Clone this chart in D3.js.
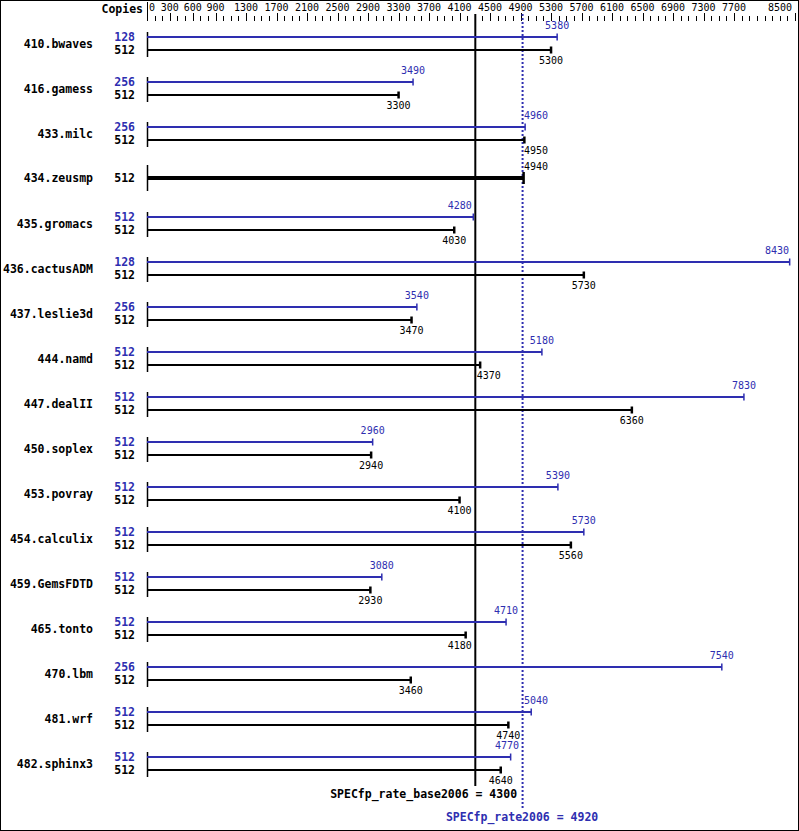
<!DOCTYPE html>
<html><head><meta charset="utf-8">
<script src="https://cdn.jsdelivr.net/npm/d3@7"></script>
<style>body{margin:0;background:#fff}svg{display:block}</style>
</head><body>
<script>
const benchmarks = ["410.bwaves","416.gamess","433.milc","434.zeusmp","435.gromacs","436.cactusADM","437.leslie3d","444.namd","447.dealII","450.soplex","453.povray","454.calculix","459.GemsFDTD","465.tonto","470.lbm","481.wrf","482.sphinx3"];
const peakCopies = [128,256,256,null,512,128,256,512,512,512,512,512,512,512,256,512,512];
const baseCopies = [512,512,512,512,512,512,512,512,512,512,512,512,512,512,512,512,512];
const peakValues = [5380,3490,4960,null,4280,8430,3540,5180,7830,2960,5390,5730,3080,4710,7540,5040,4770];
const baseValues = [5300,3300,4950,4940,4030,5730,3470,4370,6360,2940,4100,5560,2930,4180,3460,4740,4640];
const tickLabels = [0,300,600,900,1300,1700,2100,2500,2900,3300,3700,4100,4500,4900,5300,5700,6100,6500,6900,7300,7700,8500];
const baseScore = 4300, peakScore = 4920;
const baseTitle = "SPECfp_rate_base2006 = 4300";
const peakTitle = "SPECfp_rate2006 = 4920";

const W = 799, H = 831;
const BLUE = "#2e2eb0";
const MONO = "'DejaVu Sans Mono', 'Liberation Mono', monospace";
const svg = d3.select("body").append("svg").attr("width", W).attr("height", H);
svg.append("rect").attr("x",0.5).attr("y",0.5).attr("width",W-1).attr("height",H-1).attr("fill","#fff").attr("stroke","#000");

const x = d3.scaleLinear().domain([0, 8500]).range([147, 795]);
const yBlock = d3.scaleBand().domain(benchmarks).range([37, 37 + 45*benchmarks.length]).paddingInner(0).paddingOuter(0);

// top axis
svg.append("text").attr("x",143).attr("y",13).attr("text-anchor","end")
  .attr("font-family",MONO).attr("font-weight","bold").attr("font-size","11.5px").text("Copies");
svg.append("line").attr("x1",x(0)+0.5).attr("x2",x(0)+0.5).attr("y1",2).attr("y2",21).attr("stroke","#000");
const minor = d3.range(0, 8501, 100);
svg.selectAll("line.tick").data(minor).join("line")
  .attr("x1",d=>Math.round(x(d))+0.5).attr("x2",d=>Math.round(x(d))+0.5)
  .attr("y1",d=>tickLabels.includes(d)?13:16).attr("y2",21).attr("stroke","#000");
svg.selectAll("text.tl").data(tickLabels).join("text")
  .attr("x",(d,i)=> i===0 ? x(d)+2 : (i===tickLabels.length-1 ? x(d)-3 : x(d)))
  .attr("y",11)
  .attr("text-anchor",(d,i)=> i===0 ? "start" : (i===tickLabels.length-1 ? "end" : "middle"))
  .attr("font-family",MONO).attr("font-size","10px").text(d=>d);

// reference lines
svg.append("line").attr("x1",x(baseScore)+0.5).attr("x2",x(baseScore)+0.5).attr("y1",14).attr("y2",786)
  .attr("stroke","#000").attr("stroke-width",2);
svg.append("line").attr("x1",x(peakScore)+0.5).attr("x2",x(peakScore)+0.5).attr("y1",14).attr("y2",808)
  .attr("stroke",BLUE).attr("stroke-width",2).attr("stroke-dasharray","2,2");
svg.append("text").attr("x",x(peakScore)-5).attr("y",798).attr("text-anchor","end")
  .attr("font-family",MONO).attr("font-weight","bold").attr("font-size","11.5px").text(baseTitle);
svg.append("text").attr("x",x(peakScore)).attr("y",821).attr("text-anchor","middle").attr("fill",BLUE)
  .attr("font-family",MONO).attr("font-weight","bold").attr("font-size","11.5px").text(peakTitle);

const charW = 6.02;
function labelX(v){
  const c = x(v), w = String(v).length*charW;
  let left = c - w/2;
  for (const L of [x(baseScore), x(peakScore)]) {
    if (left < L+2 && left + w > L-1) {
      if (c < L) left = L - 3 - w; else left = L + 2;
    }
  }
  if (left + w > W - 10) left = W - 10 - w;
  return left;
}

benchmarks.forEach((b, i) => {
  const top = yBlock(b);
  const g = svg.append("g");
  const single = peakValues[i] === null;
  const yP = top, yB = single ? top + 6 : top + 13;
  g.append("text").attr("x",93).attr("y",(single? yB : (yP+yB)/2)+4).attr("text-anchor","end")
    .attr("font-family",MONO).attr("font-weight","bold").attr("font-size","11.5px").text(b);
  g.append("line").attr("x1",x(0)+0.5).attr("x2",x(0)+0.5)
    .attr("y1", single ? yB-13 : yP-5).attr("y2", single ? yB+13 : yB+7).attr("stroke","#000").attr("stroke-width",1.5);
  if (!single) {
    g.append("text").attr("x",135).attr("y",yP+4).attr("text-anchor","end").attr("fill",BLUE)
      .attr("font-family",MONO).attr("font-weight","bold").attr("font-size","11.5px").text(peakCopies[i]);
    g.append("line").attr("x1",x(0)).attr("x2",x(peakValues[i])).attr("y1",yP).attr("y2",yP)
      .attr("stroke",BLUE).attr("stroke-width",2);
    g.append("line").attr("x1",x(peakValues[i])).attr("x2",x(peakValues[i])).attr("y1",yP-3.5).attr("y2",yP+3.5)
      .attr("stroke",BLUE).attr("stroke-width",1.5);
    g.append("text").attr("x",labelX(peakValues[i])).attr("y",yP-8).attr("fill",BLUE)
      .attr("font-family",MONO).attr("font-size","10px").text(peakValues[i]);
  }
  g.append("text").attr("x",135).attr("y",yB+4).attr("text-anchor","end")
    .attr("font-family",MONO).attr("font-weight","bold").attr("font-size","11.5px").text(baseCopies[i]);
  g.append("line").attr("x1",x(0)).attr("x2",x(baseValues[i])).attr("y1",yB).attr("y2",yB)
    .attr("stroke","#000").attr("stroke-width",single?4:2);
  g.append("line").attr("x1",x(baseValues[i])).attr("x2",x(baseValues[i])).attr("y1",yB-(single?6:3.5)).attr("y2",yB+(single?6:3.5))
    .attr("stroke","#000").attr("stroke-width",2.5);
  g.append("text").attr("x",labelX(baseValues[i])).attr("y",single ? yB-8 : yB+14)
    .attr("font-family",MONO).attr("font-size","10px").text(baseValues[i]);
});
</script>
</body></html>
